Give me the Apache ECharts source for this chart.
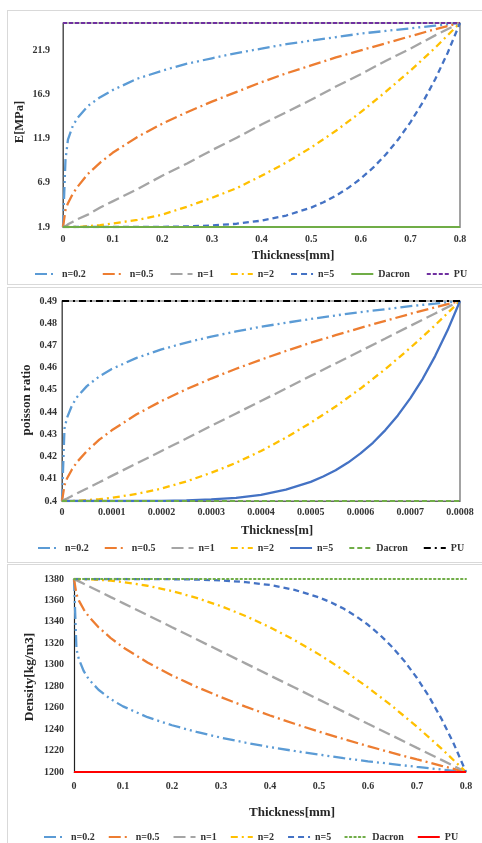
<!DOCTYPE html>
<html><head><meta charset="utf-8">
<script src="https://cdn.jsdelivr.net/npm/echarts@6/dist/echarts.min.js"></script>
<style>
html,body{margin:0;padding:0;background:#fff;width:482px;height:843px;overflow:hidden;position:relative;}
.frame{position:absolute;border:1px solid #d9d9d9;box-sizing:border-box;}
.chart{position:absolute;left:0;width:482px;}
</style></head><body>
<div class="frame" style="left:7px;top:10px;width:490px;height:275px"></div>
<div class="frame" style="left:7px;top:287px;width:490px;height:276px"></div>
<div class="frame" style="left:7px;top:564px;width:490px;height:300px"></div>
<div id="c1" class="chart" style="top:0;height:287px"></div>
<div id="c2" class="chart" style="top:287px;height:276px"></div>
<div id="c3" class="chart" style="top:563px;height:280px"></div>
<script>
// ---------- DATA ----------
const seriesNames = ['n=0.2','n=0.5','n=1','n=2','n=5','Dacron','PU'];
const thicknessMm = [0,0.005,0.01,0.02,0.03,0.05,0.075,0.1,0.15,0.2,0.25,0.3,0.35,0.4,0.45,0.5,0.55,0.6,0.65,0.7,0.75,0.8];
const thicknessM  = [0,0.000005,0.00001,0.00002,0.00003,0.00005,0.000075,0.0001,0.00015,0.0002,0.00025,0.0003,0.00035,0.0004,0.00045,0.0005,0.00055,0.0006,0.00065,0.0007,0.00075,0.0008];
// finer sampling used for the steep n=5 curves
const thicknessMmN5 = [0,0.1,0.2,0.25,0.3,0.35,0.4,0.45,0.5,0.525,0.55,0.575,0.6,0.625,0.65,0.675,0.7,0.725,0.75,0.775,0.8];
const thicknessMN5  = [0,0.0001,0.0002,0.00025,0.0003,0.00035,0.0004,0.00045,0.0005,0.000525,0.00055,0.000575,0.0006,0.000625,0.00065,0.000675,0.0007,0.000725,0.00075,0.000775,0.0008];
const endsMm = [0, 0.8];
const endsM = [0, 0.0008];

// Young's modulus E [MPa]
const E_n02 = [1.9,9.5,11.8,13.4,14.3,15.6,16.6,17.4,18.7,19.6,20.4,21.0,21.6,22.1,22.6,23.0,23.4,23.8,24.1,24.4,24.7,25];
const E_n05 = [1.9,3.8,4.6,5.7,6.5,7.9,9.2,10.3,12.1,13.6,14.9,16.1,17.2,18.3,19.3,20.2,21.1,21.9,22.7,23.5,24.3,25];
const E_n1  = [1.9,2.0,2.2,2.5,2.8,3.3,4.1,4.8,6.2,7.7,9.1,10.6,12.0,13.5,14.9,16.3,17.8,19.2,20.7,22.1,23.6,25];
const E_n2  = [1.9,1.9,1.9,1.9,1.9,2.0,2.1,2.3,2.7,3.3,4.2,5.2,6.3,7.7,9.2,10.9,12.8,14.9,17.2,19.6,22.2,25];
const E_n5  = [1.9,1.9,1.92,1.97,2.07,2.27,2.62,3.2,4.1,4.71,5.45,6.33,7.38,8.62,10.08,11.78,13.75,16.02,18.63,21.61,25];
const E_dacron = [1.9, 1.9];
const E_pu = [25, 25];
const E_ticks = [1.9, 6.9, 11.9, 16.9, 21.9];

// Poisson ratio
const nu_n02 = [0.4,0.4326,0.4374,0.443,0.4467,0.4517,0.4561,0.4594,0.4644,0.4682,0.4713,0.474,0.4763,0.4784,0.4802,0.4819,0.4835,0.485,0.4863,0.4877,0.4888,0.49];
const nu_n05 = [0.4,0.4071,0.4101,0.4142,0.4175,0.4225,0.4276,0.4318,0.439,0.445,0.4503,0.4551,0.4595,0.4636,0.4675,0.4712,0.4746,0.4779,0.4811,0.4842,0.4871,0.49];
const nu_n1  = [0.4,0.4006,0.4011,0.4023,0.4034,0.4056,0.4084,0.4113,0.4169,0.4225,0.4281,0.4338,0.4394,0.445,0.4506,0.4563,0.4619,0.4675,0.4731,0.4788,0.4844,0.49];
const nu_n2  = [0.4,0.4,0.4,0.4001,0.4001,0.4004,0.4008,0.4014,0.4032,0.4056,0.4088,0.4127,0.4172,0.4225,0.4285,0.4352,0.4425,0.4506,0.4594,0.4689,0.4791,0.49];
const nu_n5  = [0.4,0.4,0.4001,0.4003,0.4007,0.4014,0.4028,0.4051,0.4086,0.411,0.4138,0.4173,0.4214,0.4262,0.4319,0.4385,0.4462,0.455,0.4652,0.4768,0.49];
const nu_dacron = [0.4, 0.4];
const nu_pu = [0.49, 0.49];

// Density [kg/m3]
const rho_n02 = [1380,1314.8,1305.1,1294,1286.6,1276.7,1267.9,1261.2,1251.1,1243.6,1237.4,1232,1227.4,1223.2,1219.6,1216.2,1213,1210,1207.4,1204.7,1202.3,1200];
const rho_n05 = [1380,1365.8,1359.8,1351.5,1345.1,1335,1324.9,1316.3,1302.1,1290,1279.4,1269.8,1261,1252.7,1245,1237.6,1230.8,1224.1,1217.8,1211.7,1205.8,1200];
const rho_n1  = [1380,1378.9,1377.8,1375.5,1373.3,1368.8,1363.1,1357.5,1346.3,1335,1323.8,1312.5,1301.3,1290,1278.8,1267.5,1256.3,1245,1233.8,1222.5,1211.3,1200];
const rho_n2  = [1380,1380,1380,1379.9,1379.7,1379.3,1378.4,1377.2,1373.7,1368.8,1362.4,1354.7,1345.5,1335,1323,1309.7,1294.9,1278.8,1261.2,1242.2,1221.8,1200];
const rho_n5  = [1380,1380,1379.8,1379.5,1378.7,1377.1,1374.4,1369.9,1362.8,1358.1,1352.4,1345.5,1337.3,1327.6,1316.3,1303,1287.7,1270,1249.6,1226.4,1200];
const rho_dacron = [1380, 1380];
const rho_pu = [1200, 1200];

// ---------- STYLE / BUILD ----------
const FONT = '"Liberation Serif", "DejaVu Serif", serif';
const TXT = '#333333';
const COL = {n02:'#5B9BD5', n05:'#ED7D31', n1:'#A5A5A5', n2:'#FFC000', n5:'#4472C4', dacron:'#70AD47', puE:'#7030A0', puNu:'#000000', puRho:'#FF0000'};
const DASH = {
  ddot:[12,4,2,4,2,4], dot1:[12,4,2,4], long:[12,5], dashdot:[7,4,2,4], dash:[6,4],
  short:[4,2], med:[5,3], dotted:[1.5,3]
};
function pairs(xs, ys){ return xs.map((x,i)=>[x, ys[i]]); }
function line(name, xs, ys, color, type, z, w){
  return {
    name, type:'line', data:pairs(xs, ys), symbol:'none', smooth:false,
    lineStyle:{color, width: w || 2.3, type, cap: Array.isArray(type) && type[0] < 2 ? 'round' : 'butt'},
    itemStyle:{color}, z: z || 2, silent:true, animation:false
  };
}
function axisText(x, y, text, rot, size){
  return {type:'text', x, y, rotation: rot || 0, silent:true,
    style:{text, font:'bold ' + (size||12.5) + 'px ' + FONT, fill:'#262626', align:'center', verticalAlign:'middle'}};
}
function legend(top, left, gap){
  return {top, left, itemWidth:22, itemHeight:10, itemGap:gap, data:seriesNames, selectedMode:false,
    itemStyle:{opacity:0, color:'transparent', borderWidth:0},
    textStyle:{fontFamily:FONT, fontWeight:'bold', fontSize:10, color:TXT}};
}
const lbl = (extra) => Object.assign({fontFamily:FONT, fontWeight:'bold', fontSize:10, color:TXT}, extra);

// Chart 1: E
const c1 = echarts.init(document.getElementById('c1'), null, {renderer:'canvas'});
c1.setOption({
  animation:false, backgroundColor:'transparent',
  grid:{left:63, top:23, width:397, height:204, show:true, borderColor:'#666', borderWidth:1.2, containLabel:false},
  xAxis:{type:'value', min:0, max:0.8, interval:0.1, axisLine:{show:true, lineStyle:{color:'#666'}}, axisTick:{show:false}, splitLine:{show:false},
    axisLabel: lbl({margin:7})},
  yAxis:{type:'value', min:1.9, max:25, axisLine:{show:true, lineStyle:{color:'#555'}}, axisTick:{show:false}, splitLine:{show:false},
    axisLabel: lbl({margin:13, customValues:E_ticks, formatter:v=>Number(v).toFixed(1)})},
  legend: legend(264, 29, 16),
  graphic:[axisText(293, 256, 'Thickness[mm]'), axisText(20, 122, 'E[MPa]', Math.PI/2)],
  series:[
    line('n=0.2', thicknessMm, E_n02, COL.n02, DASH.ddot),
    line('n=0.5', thicknessMm, E_n05, COL.n05, DASH.dot1),
    line('n=1', thicknessMm, E_n1, COL.n1, DASH.long),
    line('n=2', thicknessMm, E_n2, COL.n2, DASH.dashdot),
    line('n=5', thicknessMmN5, E_n5, COL.n5, DASH.dash),
    line('Dacron', endsMm, E_dacron, COL.dacron, 'solid', 3, 2),
    line('PU', endsMm, E_pu, COL.puE, DASH.short, 3, 2)
  ]
});

// Chart 2: Poisson ratio
const c2 = echarts.init(document.getElementById('c2'), null, {renderer:'canvas'});
c2.setOption({
  animation:false, backgroundColor:'transparent',
  grid:{left:62, top:14, width:398, height:200, show:true, borderColor:'#666', borderWidth:1.2},
  xAxis:{type:'value', min:0, max:0.0008, interval:0.0001, axisLine:{show:true, lineStyle:{color:'#666'}}, axisTick:{show:false}, splitLine:{show:false},
    axisLabel: lbl({margin:6})},
  yAxis:{type:'value', min:0.4, max:0.49, interval:0.01, axisLine:{show:true, lineStyle:{color:'#555'}}, axisTick:{show:false}, splitLine:{show:false},
    axisLabel: lbl({margin:5})},
  legend: legend(251, 32, 15),
  graphic:[axisText(277, 244, 'Thickness[m]'), axisText(27, 113, 'poisson ratio', Math.PI/2, 13)],
  series:[
    line('n=0.2', thicknessM, nu_n02, COL.n02, DASH.ddot),
    line('n=0.5', thicknessM, nu_n05, COL.n05, DASH.dot1),
    line('n=1', thicknessM, nu_n1, COL.n1, DASH.long),
    line('n=2', thicknessM, nu_n2, COL.n2, DASH.dashdot),
    line('n=5', thicknessMN5, nu_n5, COL.n5, 'solid'),
    line('Dacron', endsM, nu_dacron, COL.dacron, DASH.med, 3, 2),
    line('PU', endsM, nu_pu, COL.puNu, DASH.dashdot, 3, 2)
  ]
});

// Chart 3: Density
const c3 = echarts.init(document.getElementById('c3'), null, {renderer:'canvas'});
c3.setOption({
  animation:false, backgroundColor:'transparent',
  grid:{left:74, top:16, width:392, height:193, show:false},
  xAxis:{type:'value', min:0, max:0.8, interval:0.1, axisLine:{show:true, lineStyle:{color:'#888'}}, axisTick:{show:false}, splitLine:{show:false},
    axisLabel: lbl({margin:9})},
  yAxis:{type:'value', min:1200, max:1380, interval:20, axisLine:{show:true, lineStyle:{color:'#222', width:1.2}}, axisTick:{show:false}, splitLine:{show:false},
    axisLabel: lbl({margin:10, formatter:v=>String(v)})},
  legend: legend(264, 38, 13),
  graphic:[axisText(292, 250, 'Thickness[mm]', 0, 13), axisText(30, 114, 'Density[kg/m3]', Math.PI/2, 13.5)],
  series:[
    line('n=0.2', thicknessMm, rho_n02, COL.n02, DASH.ddot),
    line('n=0.5', thicknessMm, rho_n05, COL.n05, DASH.dot1),
    line('n=1', thicknessMm, rho_n1, COL.n1, DASH.long),
    line('n=2', thicknessMm, rho_n2, COL.n2, DASH.dashdot),
    line('n=5', thicknessMmN5, rho_n5, COL.n5, DASH.dash),
    line('Dacron', endsMm, rho_dacron, COL.dacron, DASH.dotted, 3, 2),
    line('PU', endsMm, rho_pu, COL.puRho, 'solid', 3, 2)
  ]
});
</script>
</body></html>
